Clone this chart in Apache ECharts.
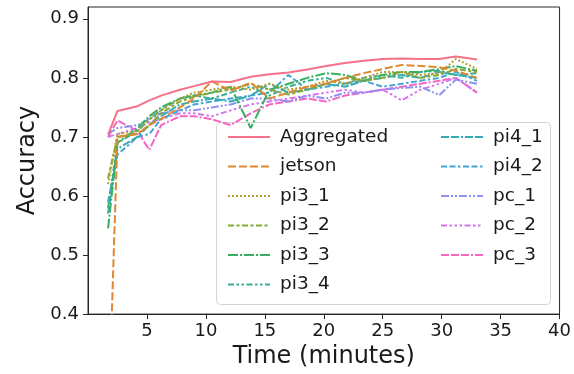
<!DOCTYPE html>
<html>
<head>
<meta charset="utf-8">
<script src="https://cdn.jsdelivr.net/npm/echarts@6/dist/echarts.min.js"></script>
<style>html,body{margin:0;padding:0;background:#fff}#c{width:574px;height:374px}</style>
</head>
<body>
<div id="c"></div>
<script>
// ---- data ----
const times = [1.7, 2.5, 4.2, 5.2, 6.2, 7.8, 9.0, 10.5, 12.1, 13.8, 15.4, 17.0, 18.6, 20.2, 21.8, 23.4, 25.0, 26.6, 28.2, 29.8, 31.2, 33.0];
const seriesNames = ['Aggregated','jetson','pi3_1','pi3_2','pi3_3','pi3_4','pi4_1','pi4_2','pc_1','pc_2','pc_3'];
const aggregated = [0.704,0.744,0.752,0.762,0.770,0.780,0.786,0.794,0.793,0.802,0.806,0.809,0.814,0.820,0.825,0.829,0.832,0.833,0.832,0.832,0.836,0.831];
const jetson = [0.20,0.700,0.705,0.720,0.730,0.750,0.765,0.794,0.778,0.792,0.765,0.775,0.785,0.790,0.800,0.808,0.815,0.822,0.820,0.818,0.812,0.800];
const pi3_1 = [0.620,0.705,0.710,0.730,0.745,0.765,0.775,0.780,0.785,0.780,0.790,0.780,0.785,0.795,0.790,0.800,0.810,0.810,0.805,0.808,0.832,0.815];
const pi3_2 = [0.630,0.700,0.705,0.720,0.740,0.760,0.768,0.775,0.780,0.790,0.780,0.772,0.780,0.790,0.800,0.795,0.800,0.810,0.800,0.805,0.815,0.810];
const pi3_3 = [0.545,0.690,0.715,0.735,0.750,0.765,0.770,0.775,0.785,0.715,0.780,0.790,0.800,0.808,0.805,0.795,0.805,0.810,0.810,0.815,0.820,0.812];
const pi3_4 = [0.580,0.690,0.710,0.730,0.745,0.765,0.770,0.765,0.775,0.785,0.770,0.785,0.795,0.800,0.790,0.800,0.805,0.800,0.810,0.812,0.805,0.808];
const pi4_1 = [0.570,0.680,0.700,0.720,0.735,0.755,0.760,0.765,0.760,0.770,0.790,0.775,0.780,0.790,0.785,0.795,0.800,0.805,0.800,0.810,0.805,0.800];
const pi4_2 = [0.590,0.670,0.700,0.705,0.730,0.745,0.755,0.760,0.765,0.770,0.775,0.805,0.780,0.785,0.790,0.795,0.785,0.790,0.795,0.800,0.810,0.795];
const pc_1 = [0.705,0.715,0.720,0.730,0.740,0.745,0.745,0.750,0.755,0.765,0.765,0.760,0.770,0.765,0.775,0.775,0.780,0.783,0.785,0.771,0.797,0.790];
const pc_2 = [0.700,0.705,0.715,0.725,0.730,0.740,0.740,0.735,0.745,0.755,0.760,0.765,0.770,0.775,0.780,0.775,0.780,0.762,0.780,0.790,0.800,0.775];
const pc_3 = [0.700,0.728,0.710,0.678,0.720,0.735,0.735,0.730,0.720,0.740,0.755,0.760,0.765,0.760,0.770,0.775,0.780,0.785,0.790,0.795,0.800,0.775];
const values = [aggregated, jetson, pi3_1, pi3_2, pi3_3, pi3_4, pi4_1, pi4_2, pc_1, pc_2, pc_3];
const yTicks = [0.4, 0.5, 0.6, 0.7, 0.8, 0.9];
const xTicks = [5, 10, 15, 20, 25, 30, 35, 40];

// ---- styles ----
const colors = ['#f77189','#e18631','#b59b31','#86a831','#36b060','#35ae93','#37abb4','#46a5d8','#8f91f3','#d872ee','#f566c2'];
const dashUnits = [null,[4,1.5],[1,1],[3,1.25,1.5,1.25],[5,1,1,1],[3,1.25,1.25,1.25,1.25,1.25],[4,1,4,1,1,1],[3,1.25,3,1.25,1.25,1.25],[4,1,1,1,1,1],[3,1.25,1.25,1.25,1.25,1.25,1.25,1.25],[4,1,4,1,4,1,1,1]];
const LW = 2;
const FONT = 'DejaVu Sans';

const series = seriesNames.map((n, i) => ({
  name: n,
  type: 'line',
  data: times.map((t, j) => [t, values[i][j]]),
  symbol: 'none',
  showSymbol: false,
  clip: true,
  z: 20 - i,
  lineStyle: { color: colors[i], width: LW, type: dashUnits[i] ? dashUnits[i].map(v => v * LW) : 'solid' },
  itemStyle: { color: colors[i] }
}));

const legendCommon = {
  orient: 'vertical',
  itemWidth: 42,
  itemHeight: 14,
  itemGap: 7.5,
  itemStyle: { opacity: 0 },
  textStyle: { fontFamily: FONT, fontSize: 18.5, color: '#1a1a1a', lineHeight: 22, padding: [0, 0, 0, 5] },
  z: 5
};

const chart = echarts.init(document.getElementById('c'), null, { renderer: 'canvas' });
chart.setOption({
  animation: false,
  color: colors,
  grid: { left: 88, right: 13, top: 7, bottom: 59, show: true, borderColor: '#262626', borderWidth: 1, backgroundColor: 'transparent' },
  xAxis: {
    type: 'value', min: 0, max: 40, interval: 5,
    name: 'Time (minutes)', nameLocation: 'middle', nameGap: 30,
    nameTextStyle: { fontFamily: FONT, fontSize: 24, color: '#1a1a1a' },
    axisLine: { show: true, lineStyle: { color: '#262626', width: 1 } },
    axisTick: { show: true, length: 5, inside: false, customValues: xTicks, lineStyle: { color: '#262626' } },
    axisLabel: { fontFamily: FONT, fontSize: 18, color: '#1a1a1a', margin: 8, customValues: xTicks },
    splitLine: { show: false }
  },
  yAxis: {
    type: 'value', min: 0.4, max: 0.92, interval: 0.1,
    name: 'Accuracy', nameLocation: 'middle', nameGap: 48,
    nameTextStyle: { fontFamily: FONT, fontSize: 24, color: '#1a1a1a' },
    axisLine: { show: true, lineStyle: { color: '#262626', width: 1 } },
    axisTick: { show: true, length: 5, inside: false, customValues: yTicks, lineStyle: { color: '#262626' } },
    axisLabel: { fontFamily: FONT, fontSize: 18, color: '#1a1a1a', margin: 9, customValues: yTicks, formatter: v => v.toFixed(1) },
    splitLine: { show: false }
  },
  legend: [
    Object.assign({}, legendCommon, { left: 222, top: 121, data: seriesNames.slice(0, 6) }),
    Object.assign({}, legendCommon, { left: 435, top: 121, data: seriesNames.slice(6) })
  ],
  graphic: [{
    type: 'rect', z: 4,
    shape: { x: 216.5, y: 122.5, width: 334, height: 182, r: 4 },
    style: { fill: 'rgba(255,255,255,0.8)', stroke: '#d4d4d4', lineWidth: 1 }
  }],
  series: series
});
</script>
</body>
</html>
